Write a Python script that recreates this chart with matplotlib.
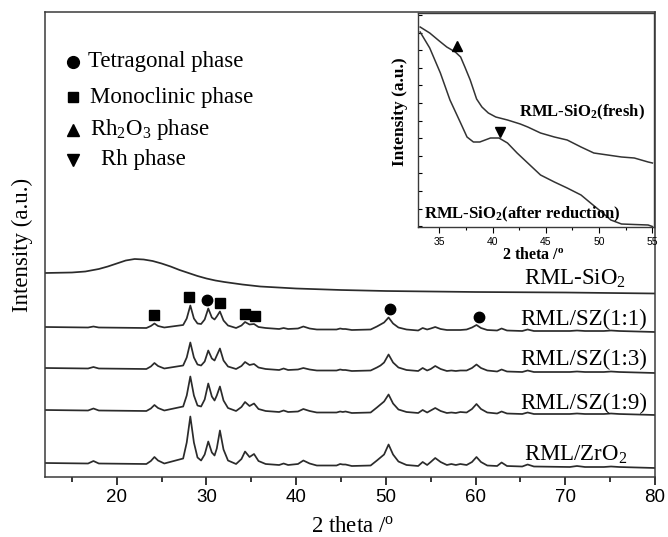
import numpy as np
import matplotlib
matplotlib.use("Agg")
import matplotlib.pyplot as plt

plt.rcParams['font.family'] = 'Liberation Serif'
plt.rcParams['mathtext.fontset'] = 'custom'
plt.rcParams['mathtext.rm'] = 'Liberation Serif'
plt.rcParams['mathtext.it'] = 'Liberation Serif:italic'
plt.rcParams['mathtext.bf'] = 'Liberation Serif:bold'

# ---- XRD patterns (2 theta in degrees, intensity in a.u.) ----
two_theta = [12.0, 16.8, 17.4, 18.0, 23.3, 23.8, 24.2, 24.6, 25.3, 27.4,
             27.8, 28.2, 28.6, 29.0, 29.4, 29.8, 30.2, 30.6, 30.9, 31.15,
             31.5, 31.9, 32.4, 33.3, 33.9, 34.3, 34.8, 35.3, 35.8, 36.6,
             38.1, 38.6, 39.1, 40.2, 40.8, 41.5, 42.3, 44.5, 44.9, 45.2,
             45.5, 46.2, 48.3, 49.0, 49.4, 49.8, 50.3, 50.8, 51.4, 52.3,
             53.6, 54.1, 54.6, 55.0, 55.5, 56.1, 56.8, 57.3, 57.8, 58.3,
             59.0, 59.6, 60.1, 60.6, 61.3, 62.4, 62.9, 63.5, 65.2, 65.8,
             66.5, 70.5, 71.3, 72.2, 74.3, 75.1, 76.0, 80.0]

background = [5, 4.5, 4.5, 4.5, 4, 4, 4, 4, 4, 3.5,
              3.5, 3.5, 3.5, 3.5, 3.5, 3.5, 3.5, 3.5, 3.5, 3.5,
              3.5, 3.5, 3.5, 3, 3, 3, 3, 3, 3, 3,
              2.5, 2.5, 2.5, 2.5, 2.5, 2.5, 2.5, 2, 2, 2,
              2, 2, 1.5, 1.5, 1.5, 1.5, 1.5, 1.5, 1.5, 1.5,
              1, 1, 1, 1, 1, 1, 1, 1, 1, 1,
              1, 1, 1, 1, 1, 0.5, 0.5, 0.5, 0.5, 0.5,
              0.5, 0.5, 0.5, 0.5, 0.5, 0.5, 0.5, 0]

net_zro2 = [0, 0, 2.5, 0, 0, 3, 7, 3.5, 0.5, 6,
            22, 48, 22, 7, 4, 10, 23, 12, 9, 16,
            34, 15, 4, 1, 6, 13.5, 8, 11, 4, 1,
            0.5, 2, 0.5, 1.5, 5, 2, 0, 0.5, 2, 1.5,
            1.5, 0, 1, 6, 9, 12, 22, 12, 5, 1.5,
            1, 5, 2, 5, 9, 5, 2, 3, 2, 3,
            2, 5, 10, 5, 1.5, 1.5, 5, 1.5, 1, 3,
            1, 0.5, 1.5, 0.5, 0.5, 1, 0.5, 0]

net_sz19 = [0, 0, 2, 0, 0, 2.5, 6, 3, 0.5, 5,
            16, 35, 16, 6, 5, 12, 28, 15, 11, 16,
            25, 11, 3.5, 1, 5, 10, 6, 8.5, 3, 1,
            0.5, 2, 0.5, 1, 3.5, 1.5, 0, 0.5, 1.5, 1,
            1.5, 0, 1, 6, 9, 12, 19, 10, 4, 1.5,
            1, 4, 1.5, 3.5, 6, 3, 1, 1.5, 1, 2,
            1.5, 5, 10, 5, 1.5, 1, 3, 1, 0.5, 2,
            0.5, 0.5, 1, 0.5, 0.5, 1, 0.5, 0]

net_sz13 = [0, 0, 1.5, 0, 0, 2.5, 6, 3, 0.5, 4,
            12, 27, 12, 5, 4, 8, 19, 11, 9, 14,
            21, 9, 3, 1, 4, 8, 5, 6, 2.5, 1,
            0.5, 2, 0.5, 1, 2.5, 1, 0, 0.5, 1.5, 1,
            1, 0, 1, 4, 6, 9, 17, 9, 4, 1.5,
            1, 4, 1.5, 3, 6, 3, 1, 1.5, 1, 1.5,
            1.5, 4, 7.5, 4, 1.5, 1, 3, 1, 0.5, 2,
            0.5, 0.5, 1, 0.5, 0.5, 1, 0.5, 0]

net_sz11 = [0, 0, 1, 0, 0, 2, 4.5, 2, 0.5, 3.5,
            10, 23, 10, 5, 4.5, 9, 20, 11, 9, 12,
            17, 8, 3, 1, 3.5, 7, 4.5, 5, 2, 1,
            0.5, 1.5, 0.5, 1, 3, 1, 0, 0.5, 1.5, 1,
            1, 0, 1, 4, 6, 8, 13, 7, 3, 1,
            0.5, 3, 1.5, 2.5, 4, 2, 1, 1, 1, 1,
            1.5, 3.5, 6, 3, 1, 1, 3, 1, 0.5, 2,
            0.5, 0.5, 1, 0.5, 0.5, 1, 0.5, 0]

# amorphous silica hump
sio2_theta = [12, 15, 16.5, 18, 19, 20, 21, 22, 23, 24, 25, 26, 27, 28, 29,
              30, 31, 32, 34, 36, 40, 45, 50, 55, 60, 70, 80]
sio2_int = [24, 24.5, 25.5, 28, 30.5, 33.5, 36.5, 38, 37.5, 36, 33.5, 30.5,
            27, 24, 21, 18.5, 16.5, 15, 12.5, 10.5, 8.5, 7, 6, 5.5, 5, 4.5, 3.5]

# phase reflections
tetragonal_pos = [30.1, 50.5, 60.4]
monoclinic_pos = [24.2, 28.1, 31.5, 34.35, 35.4]

# ---- inset: RML-SiO2 fresh / after reduction ----
fresh_theta = [33.2, 34.1, 35.0, 35.7, 36.5, 37.0, 37.4, 37.9, 38.5, 39.0,
               39.6, 40.3, 41.4, 42.6, 43.3, 44.5, 45.8, 47.0, 48.3, 49.5,
               50.8, 52.1, 53.3, 54.6, 55.0]
fresh_int = [200, 194, 186, 180, 175, 170, 160, 147, 128, 120,
             114, 110, 107, 103, 100, 94, 90, 87, 80, 74,
             72, 70, 69, 65, 64]

reduced_theta = [33.2, 34.1, 35.1, 36.0, 37.0, 37.6, 38.2, 38.8, 39.8, 40.6,
                 41.4, 42.3, 43.3, 44.5, 45.8, 47.0, 48.3, 49.2, 50.0, 51.1,
                 52.1, 53.3, 54.6, 55.0]
reduced_int = [195, 179, 154, 127, 104, 90, 85, 85, 89, 89,
               84, 74, 64, 52, 45, 39, 32, 24, 17, 7,
               3, 2.5, 2, 0.5]

rh2o3_pos = 36.7
rh_pos = 40.7

# ---- figure ----
W, H = 668, 537
fig = plt.figure(figsize=(W / 100, H / 100), dpi=100)
ax = fig.add_axes([45 / W, 60 / H, 610 / W, 465 / H])

line_kw = dict(color='#2b2b2b', lw=1.25)
bg = np.array(background)
patterns = [
    (net_zro2, 9, r'RML/ZrO$_2$', 71.2, 16.5),
    (net_sz19, 62, 'RML/SZ(1:9)', 72.1, 67.5),
    (net_sz13, 104, 'RML/SZ(1:3)', 72.0, 111.5),
    (net_sz11, 145, 'RML/SZ(1:1)', 72.0, 151.5),
]
curves = {}
for net, off, name, lx, ly in patterns:
    y = np.array(net) + bg + off
    curves[name] = y
    ax.plot(two_theta, y, **line_kw)
    ax.text(lx, ly, name, fontsize=16.5, ha='center', va='baseline')

ax.plot(sio2_theta, np.array(sio2_int) + 180, **line_kw)
ax.text(71.1, 192.5, r'RML-SiO$_2$', fontsize=16.5, ha='center', va='baseline')

# phase markers sit just above the RML/SZ(1:1) reflections
top = curves['RML/SZ(1:1)']
tt = np.array(two_theta)
def mark_y(pos):
    return top[np.abs(tt - pos) <= 0.35].max() + 8.5

ax.plot(monoclinic_pos, [mark_y(p) for p in monoclinic_pos], 's', color='k', ms=6.5)
ax.plot(tetragonal_pos, [mark_y(p) for p in tetragonal_pos], 'o', color='k', ms=7.5)

ax.set_xlim(12, 80)
ax.set_ylim(0, 465)
ax.set_xticks([20, 30, 40, 50, 60, 70, 80])
ax.set_xticks([15, 25, 35, 45, 55, 65, 75], minor=True)
ax.set_yticks([])
ax.tick_params(axis='x', which='major', direction='out', length=6, width=1.1, pad=3,
               labelsize=13.5, labelfontfamily='Liberation Sans')
ax.tick_params(axis='x', which='minor', direction='out', length=3.5, width=1.1)
for s in ax.spines.values():
    s.set_linewidth(1.1)
    s.set_color('#3a3a3a')

fig.text(353 / W, 1 - 526 / H, r'2 theta /$^\mathrm{o}$', fontsize=16.5, ha='center', va='center')
fig.text(22 / W, 1 - 245 / H, 'Intensity (a.u.)', fontsize=16.5, rotation=90, ha='center', va='center')

# hand-made key in the upper left
key = [('o', 8.5, 'Tetragonal phase', 88),
       ('s', 7.5, 'Monoclinic phase', 90),
       ('^', 8.5, r'Rh$_2$O$_3$ phase', 90),
       ('v', 8.5, 'Rh phase', 101)]
key_y = [62, 97, 130, 160]
for (m, ms, label, tx), ky in zip(key, key_y):
    ax.plot([73 / W], [1 - ky / H], m, color='k', ms=ms, transform=fig.transFigure, clip_on=False)
    fig.text(tx / W, 1 - ky / H, label, fontsize=16.5, ha='left', va='center')

# ---- inset ----
axi = fig.add_axes([418 / W, 310 / H, 236 / W, 214 / H])
axi.plot(fresh_theta, fresh_int, color='#333333', lw=1.1)
axi.plot(reduced_theta, reduced_int, color='#333333', lw=1.1)
axi.plot([rh2o3_pos], [np.interp(rh2o3_pos, fresh_theta, fresh_int) + 8], '^', color='k', ms=7)
axi.plot([rh_pos], [np.interp(rh_pos, reduced_theta, reduced_int) + 7], 'v', color='k', ms=7)
axi.text(48.4, 115, r'RML-SiO$_\mathbf{2}$(fresh)', fontsize=12, fontweight='bold',
         ha='center', va='center')
axi.text(33.6, 13, r'RML-SiO$_\mathbf{2}$(after reduction)', fontsize=12, fontweight='bold',
         ha='left', va='center')
axi.set_xlim(33, 55.15)
axi.set_ylim(0, 214)
axi.set_xticks([35, 40, 45, 50, 55])
axi.set_xticks([37.5, 42.5, 47.5, 52.5], minor=True)
axi.set_yticks(np.arange(0.8, 214, 17.6))
axi.tick_params(axis='y', direction='in', length=3, width=0.8, labelleft=False)
axi.tick_params(axis='x', which='major', direction='out', length=4, width=0.8, pad=3,
                labelsize=7.5, labelfontfamily='Liberation Sans')
axi.tick_params(axis='x', which='minor', direction='out', length=2.5, width=0.8)
for s in axi.spines.values():
    s.set_linewidth(1.0)
    s.set_color('#3a3a3a')
fig.text(533 / W, 1 - 255 / H, r'2 theta /$^\mathbf{o}$', fontsize=11.5, fontweight='bold',
         ha='center', va='center')
fig.text(400 / W, 1 - 112 / H, 'Intensity (a.u.)', fontsize=12.5, fontweight='bold',
         rotation=90, ha='center', va='center')

fig.savefig('out.png', dpi=100)
